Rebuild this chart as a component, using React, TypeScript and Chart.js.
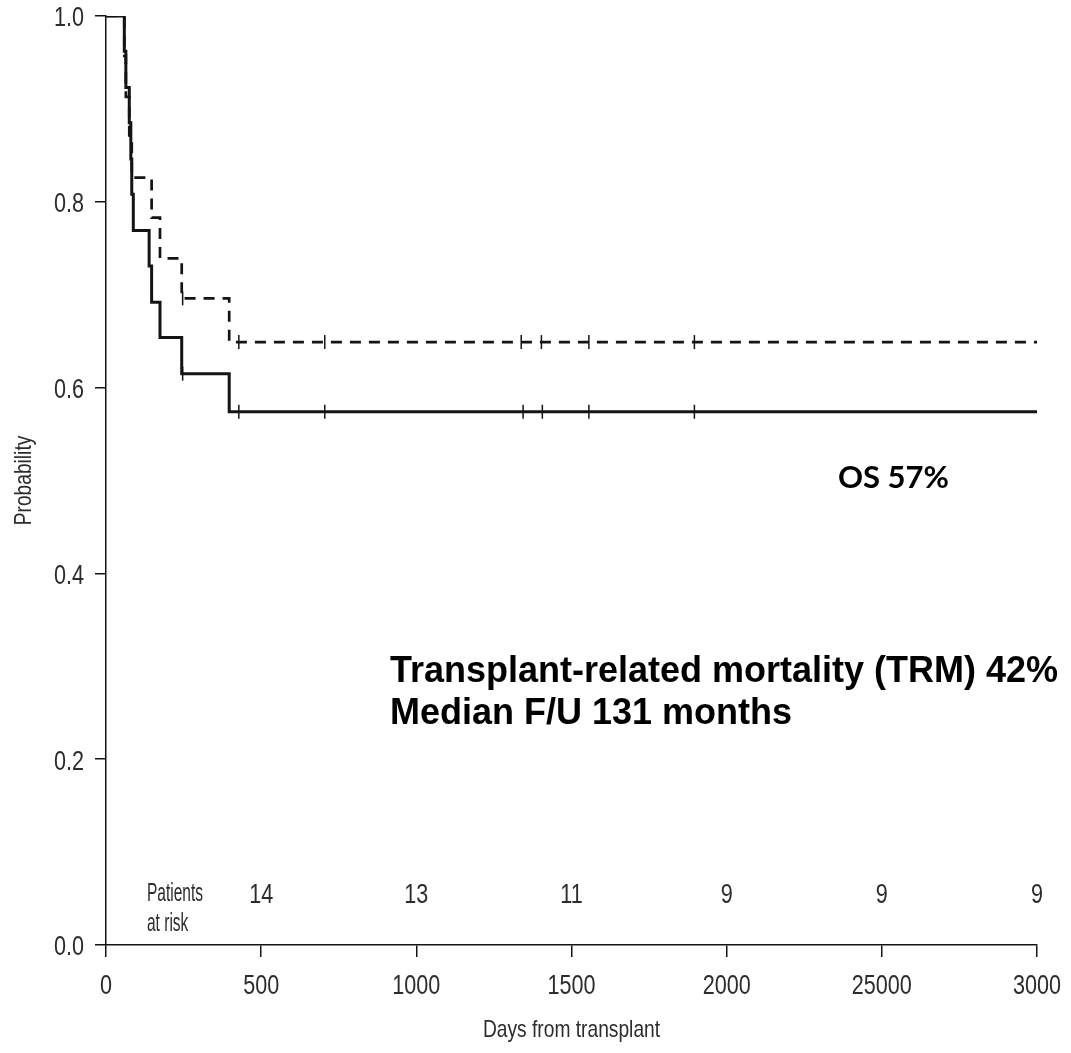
import React, { useEffect, useRef } from "react";
import { Chart, registerables } from "chart.js";

Chart.register(...registerables);

// Kaplan–Meier step data (day of event, survival from that day on)
const osDays = [0, 59, 64, 75, 80, 83, 88, 139, 147, 174, 244, 397, 3000];
const osProb = [1, 0.962, 0.923, 0.885, 0.846, 0.808, 0.769, 0.731, 0.692, 0.654, 0.615, 0.574, 0.574];

const dfsDays = [0, 59, 64, 75, 83, 147, 174, 244, 397, 3000];
const dfsProb = [1, 0.957, 0.913, 0.87, 0.826, 0.783, 0.739, 0.696, 0.649, 0.649];

// censored observations
const osCensorDays = [247, 428, 705, 1344, 1406, 1556, 1896];
const dfsCensorDays = [247, 428, 705, 1338, 1403, 1556, 1896];

// numbers at risk
const atRiskDays = [500, 1000, 1500, 2000, 2500, 3000];
const atRiskCounts = [14, 13, 11, 9, 9, 9];

const xTickValues = [0, 500, 1000, 1500, 2000, 2500, 3000];
const xTickLabels = ["0", "500", "1000", "1500", "2000", "25000", "3000"];
const yTickValues = [0, 0.2, 0.4, 0.6, 0.8, 1.0];

const SANS = '"Liberation Sans", Arial, sans-serif';
const INK = "#141414";
const LABEL = "#2c2c2c";

function stepValue(days: number[], probs: number[], t: number): number {
  let v = probs[0];
  for (let i = 0; i < days.length; i++) {
    if (days[i] <= t) v = probs[i];
  }
  return v;
}

// draw horizontally condensed text
function narrowText(ctx: CanvasRenderingContext2D, text: string, x: number, y: number, squeeze: number) {
  ctx.save();
  ctx.translate(x, y);
  ctx.scale(squeeze, 1);
  ctx.fillText(text, 0, 0);
  ctx.restore();
}

const textPlugin = {
  id: "kmText",
  afterDraw(chart: any) {
    const { ctx, chartArea, scales } = chart;
    const x = scales.x;
    const y = scales.y;
    ctx.save();
    ctx.fillStyle = LABEL;
    ctx.textBaseline = "middle";

    // tick labels
    ctx.font = `27px ${SANS}`;
    ctx.textAlign = "right";
    yTickValues.forEach((v) => {
      narrowText(ctx, v.toFixed(1), 84, y.getPixelForValue(v) + 3, 0.8);
    });
    ctx.textAlign = "center";
    xTickValues.forEach((v, i) => {
      narrowText(ctx, xTickLabels[i], x.getPixelForValue(v), chartArea.bottom + 42, 0.8);
    });

    // numbers at risk row
    atRiskDays.forEach((d, i) => {
      narrowText(ctx, String(atRiskCounts[i]), x.getPixelForValue(d), chartArea.bottom - 49, 0.8);
    });
    ctx.font = `25px ${SANS}`;
    ctx.textAlign = "left";
    narrowText(ctx, "Patients", chartArea.left + 41, chartArea.bottom - 51, 0.62);
    narrowText(ctx, "at risk", chartArea.left + 41, chartArea.bottom - 21, 0.62);

    // axis titles
    ctx.font = `24px ${SANS}`;
    ctx.textAlign = "center";
    narrowText(ctx, "Days from transplant", (chartArea.left + chartArea.right) / 2, 1030, 0.8);
    ctx.save();
    ctx.translate(24, (chartArea.top + chartArea.bottom) / 2);
    ctx.rotate(-Math.PI / 2);
    narrowText(ctx, "Probability", 0, 0, 0.8);
    ctx.restore();

    // annotations
    ctx.fillStyle = "#000";
    ctx.textAlign = "left";
    ctx.font = `bold 31px Lato, "Open Sans", sans-serif`;
    ctx.fillText("OS 57%", 838, 478);
    ctx.font = `bold 36px ${SANS}`;
    ctx.fillText("Transplant-related mortality (TRM) 42%", 390, 672);
    ctx.fillText("Median F/U 131 months", 390, 714);
    ctx.restore();
  },
};

export default function App() {
  const ref = useRef<HTMLCanvasElement | null>(null);

  useEffect(() => {
    if (!ref.current) return;
    const toXY = (days: number[], probs: number[]) => days.map((d, i) => ({ x: d, y: probs[i] }));
    const censor = (days: number[], srcDays: number[], srcProbs: number[]) =>
      days.map((d) => ({ x: d, y: stepValue(srcDays, srcProbs, d) }));

    const censorStyle = {
      showLine: false,
      pointStyle: "line" as const,
      rotation: 90,
      pointRadius: 7,
      pointBorderWidth: 1.5,
      pointBorderColor: INK,
      borderColor: INK,
    };

    const chart = new Chart(ref.current, {
      type: "line",
      data: {
        datasets: [
          {
            label: "OS",
            data: toXY(osDays, osProb),
            stepped: "before",
            borderColor: INK,
            borderWidth: 3,
            pointRadius: 0,
            fill: false,
          },
          {
            label: "DFS",
            data: toXY(dfsDays, dfsProb),
            stepped: "before",
            borderColor: INK,
            borderWidth: 2.7,
            borderDash: [11, 8],
            pointRadius: 0,
            fill: false,
          },
          { label: "OS censored", data: censor(osCensorDays, osDays, osProb), ...censorStyle },
          { label: "DFS censored", data: censor(dfsCensorDays, dfsDays, dfsProb), ...censorStyle },
        ],
      },
      options: {
        responsive: false,
        animation: false,
        layout: { padding: { top: 16, right: 34, left: 0, bottom: 0 } },
        plugins: { legend: { display: false }, tooltip: { enabled: false } },
        scales: {
          x: {
            type: "linear",
            min: 0,
            max: 3000,
            afterFit: (s: any) => {
              s.height = 108;
            },
            afterBuildTicks: (s: any) => {
              s.ticks = xTickValues.map((v) => ({ value: v }));
            },
            border: { color: INK, width: 1.5 },
            grid: { drawOnChartArea: false, tickLength: 12, color: INK, lineWidth: 1.5 },
            ticks: { display: false },
          },
          y: {
            min: 0,
            max: 1,
            afterFit: (s: any) => {
              s.width = 106;
            },
            afterBuildTicks: (s: any) => {
              s.ticks = yTickValues.map((v) => ({ value: v }));
            },
            border: { color: INK, width: 1.5 },
            grid: { drawOnChartArea: false, tickLength: 11, color: INK, lineWidth: 1.5 },
            ticks: { display: false },
          },
        },
      },
      plugins: [textPlugin],
    });
    return () => chart.destroy();
  }, []);

  return (
    <div style={{ position: "fixed", left: 0, top: 0, width: 1071, height: 1053, background: "#fff" }}>
      <canvas ref={ref} width={1071} height={1053} style={{ display: "block" }} />
    </div>
  );
}
